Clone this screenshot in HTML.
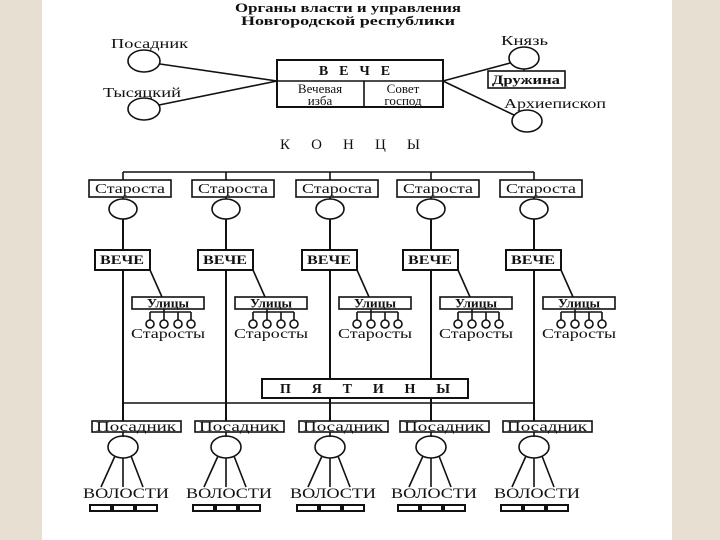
<!DOCTYPE html>
<html><head><meta charset="utf-8"><style>
html,body{margin:0;padding:0;background:#e6dfd2;}
svg{display:block}
text{font-family:"Liberation Serif",serif;fill:#111}
</style></head><body>
<svg width="720" height="540" viewBox="0 0 720 540" xmlns="http://www.w3.org/2000/svg">
<rect x="0" y="0" width="720" height="540" fill="#e6dfd2"/>
<rect x="42" y="0" width="630" height="540" fill="#fff"/>
<g stroke="#111" stroke-width="1.6" fill="none">
<text x="348" y="12" font-size="13" font-weight="bold" text-anchor="middle" stroke="none" textLength="226" lengthAdjust="spacingAndGlyphs">Органы власти и управления</text>
<text x="348" y="25" font-size="13" font-weight="bold" text-anchor="middle" stroke="none" textLength="214" lengthAdjust="spacingAndGlyphs">Новгородской республики</text>
<text x="111" y="48" font-size="14" stroke="none" textLength="77" lengthAdjust="spacingAndGlyphs">Посадник</text>
<ellipse cx="144" cy="61" rx="16" ry="11"/>
<text x="103" y="97" font-size="14" stroke="none" textLength="78" lengthAdjust="spacingAndGlyphs">Тысяцкий</text>
<ellipse cx="144" cy="109" rx="16" ry="11"/>
<line x1="160" y1="64" x2="277" y2="81"/>
<line x1="159" y1="105" x2="277" y2="81"/>
<rect x="277" y="60" width="166" height="47" stroke-width="2"/>
<line x1="277" y1="81" x2="443" y2="81"/>
<line x1="364" y1="81" x2="364" y2="107"/>
<text x="360" y="75" font-size="14" font-weight="bold" text-anchor="middle" stroke="none" letter-spacing="11">ВЕЧЕ</text>
<text x="320" y="93" font-size="13" text-anchor="middle" stroke="none">Вечевая</text>
<text x="320" y="105" font-size="13" text-anchor="middle" stroke="none">изба</text>
<text x="403" y="93" font-size="13" text-anchor="middle" stroke="none">Совет</text>
<text x="403" y="105" font-size="13" text-anchor="middle" stroke="none">господ</text>
<text x="501" y="45" font-size="14" stroke="none" textLength="47" lengthAdjust="spacingAndGlyphs">Князь</text>
<ellipse cx="524" cy="58" rx="15" ry="11"/>
<line x1="524" y1="69" x2="524" y2="71"/>
<rect x="488" y="71" width="77" height="17"/>
<text x="526" y="84" font-size="13" font-weight="bold" text-anchor="middle" stroke="none" textLength="68" lengthAdjust="spacingAndGlyphs">Дружина</text>
<text x="504" y="108" font-size="14" stroke="none" textLength="102" lengthAdjust="spacingAndGlyphs">Архиепископ</text>
<ellipse cx="527" cy="121" rx="15" ry="11"/>
<line x1="443" y1="81" x2="510" y2="63"/>
<line x1="443" y1="81" x2="514" y2="115"/>
<text x="280" y="149" font-size="15" stroke="none" textLength="140" lengthAdjust="spacing">К О Н Ц Ы</text>
<line x1="123" y1="172" x2="534" y2="172"/>
<line x1="123" y1="403" x2="534" y2="403"/>

<g transform="translate(123,0)">
<line x1="0" y1="172" x2="0" y2="180"/>
<rect x="-34" y="180" width="82" height="17" fill="#fff"/>
<text x="7" y="193" font-size="14" text-anchor="middle" stroke="none" textLength="70" lengthAdjust="spacingAndGlyphs">Староста</text>
<line x1="0" y1="197" x2="0" y2="199"/>
<ellipse cx="0" cy="209" rx="14" ry="10"/>
<line x1="0" y1="219" x2="0" y2="421" stroke-width="2"/>
<rect x="-28" y="250" width="55" height="20" fill="#fff" stroke-width="2"/>
<text x="-1" y="264" font-size="13" font-weight="bold" text-anchor="middle" stroke="none" textLength="44" lengthAdjust="spacingAndGlyphs">ВЕЧЕ</text>
<line x1="27" y1="270" x2="39" y2="297"/>
<rect x="9" y="297" width="72" height="12"/>
<text x="45" y="307.5" font-size="13" font-weight="bold" text-anchor="middle" stroke="none" textLength="42" lengthAdjust="spacingAndGlyphs">Улицы</text>
<line x1="27" y1="312" x2="68" y2="312"/><line x1="41" y1="309" x2="41" y2="312"/>
<line x1="27" y1="312" x2="27" y2="320"/><circle cx="27" cy="324" r="4"/>
<line x1="41" y1="312" x2="41" y2="320"/><circle cx="41" cy="324" r="4"/>
<line x1="55" y1="312" x2="55" y2="320"/><circle cx="55" cy="324" r="4"/>
<line x1="68" y1="312" x2="68" y2="320"/><circle cx="68" cy="324" r="4"/>
<text x="45" y="338" font-size="14" text-anchor="middle" stroke="none" textLength="74" lengthAdjust="spacingAndGlyphs">Старосты</text>
<rect x="-31" y="421" width="89" height="11" fill="#fff"/>
<text x="13" y="431" font-size="14" text-anchor="middle" stroke="none" textLength="80" lengthAdjust="spacingAndGlyphs">Посадник</text>
<line x1="0" y1="432" x2="0" y2="437"/>
<ellipse cx="0" cy="447" rx="15" ry="11"/>
<line x1="-8" y1="456" x2="-22" y2="487"/><line x1="0" y1="458" x2="0" y2="487"/><line x1="8" y1="456" x2="20" y2="487"/>
<text x="3" y="498" font-size="15" text-anchor="middle" stroke="none" textLength="86" lengthAdjust="spacingAndGlyphs">ВОЛОСТИ</text>
<rect x="-33" y="505" width="21" height="6" stroke-width="2"/><rect x="-10" y="505" width="21" height="6" stroke-width="2"/><rect x="13" y="505" width="21" height="6" stroke-width="2"/>
</g>

<g transform="translate(226,0)">
<line x1="0" y1="172" x2="0" y2="180"/>
<rect x="-34" y="180" width="82" height="17" fill="#fff"/>
<text x="7" y="193" font-size="14" text-anchor="middle" stroke="none" textLength="70" lengthAdjust="spacingAndGlyphs">Староста</text>
<line x1="0" y1="197" x2="0" y2="199"/>
<ellipse cx="0" cy="209" rx="14" ry="10"/>
<line x1="0" y1="219" x2="0" y2="421" stroke-width="2"/>
<rect x="-28" y="250" width="55" height="20" fill="#fff" stroke-width="2"/>
<text x="-1" y="264" font-size="13" font-weight="bold" text-anchor="middle" stroke="none" textLength="44" lengthAdjust="spacingAndGlyphs">ВЕЧЕ</text>
<line x1="27" y1="270" x2="39" y2="297"/>
<rect x="9" y="297" width="72" height="12"/>
<text x="45" y="307.5" font-size="13" font-weight="bold" text-anchor="middle" stroke="none" textLength="42" lengthAdjust="spacingAndGlyphs">Улицы</text>
<line x1="27" y1="312" x2="68" y2="312"/><line x1="41" y1="309" x2="41" y2="312"/>
<line x1="27" y1="312" x2="27" y2="320"/><circle cx="27" cy="324" r="4"/>
<line x1="41" y1="312" x2="41" y2="320"/><circle cx="41" cy="324" r="4"/>
<line x1="55" y1="312" x2="55" y2="320"/><circle cx="55" cy="324" r="4"/>
<line x1="68" y1="312" x2="68" y2="320"/><circle cx="68" cy="324" r="4"/>
<text x="45" y="338" font-size="14" text-anchor="middle" stroke="none" textLength="74" lengthAdjust="spacingAndGlyphs">Старосты</text>
<rect x="-31" y="421" width="89" height="11" fill="#fff"/>
<text x="13" y="431" font-size="14" text-anchor="middle" stroke="none" textLength="80" lengthAdjust="spacingAndGlyphs">Посадник</text>
<line x1="0" y1="432" x2="0" y2="437"/>
<ellipse cx="0" cy="447" rx="15" ry="11"/>
<line x1="-8" y1="456" x2="-22" y2="487"/><line x1="0" y1="458" x2="0" y2="487"/><line x1="8" y1="456" x2="20" y2="487"/>
<text x="3" y="498" font-size="15" text-anchor="middle" stroke="none" textLength="86" lengthAdjust="spacingAndGlyphs">ВОЛОСТИ</text>
<rect x="-33" y="505" width="21" height="6" stroke-width="2"/><rect x="-10" y="505" width="21" height="6" stroke-width="2"/><rect x="13" y="505" width="21" height="6" stroke-width="2"/>
</g>

<g transform="translate(330,0)">
<line x1="0" y1="172" x2="0" y2="180"/>
<rect x="-34" y="180" width="82" height="17" fill="#fff"/>
<text x="7" y="193" font-size="14" text-anchor="middle" stroke="none" textLength="70" lengthAdjust="spacingAndGlyphs">Староста</text>
<line x1="0" y1="197" x2="0" y2="199"/>
<ellipse cx="0" cy="209" rx="14" ry="10"/>
<line x1="0" y1="219" x2="0" y2="421" stroke-width="2"/>
<rect x="-28" y="250" width="55" height="20" fill="#fff" stroke-width="2"/>
<text x="-1" y="264" font-size="13" font-weight="bold" text-anchor="middle" stroke="none" textLength="44" lengthAdjust="spacingAndGlyphs">ВЕЧЕ</text>
<line x1="27" y1="270" x2="39" y2="297"/>
<rect x="9" y="297" width="72" height="12"/>
<text x="45" y="307.5" font-size="13" font-weight="bold" text-anchor="middle" stroke="none" textLength="42" lengthAdjust="spacingAndGlyphs">Улицы</text>
<line x1="27" y1="312" x2="68" y2="312"/><line x1="41" y1="309" x2="41" y2="312"/>
<line x1="27" y1="312" x2="27" y2="320"/><circle cx="27" cy="324" r="4"/>
<line x1="41" y1="312" x2="41" y2="320"/><circle cx="41" cy="324" r="4"/>
<line x1="55" y1="312" x2="55" y2="320"/><circle cx="55" cy="324" r="4"/>
<line x1="68" y1="312" x2="68" y2="320"/><circle cx="68" cy="324" r="4"/>
<text x="45" y="338" font-size="14" text-anchor="middle" stroke="none" textLength="74" lengthAdjust="spacingAndGlyphs">Старосты</text>
<rect x="-31" y="421" width="89" height="11" fill="#fff"/>
<text x="13" y="431" font-size="14" text-anchor="middle" stroke="none" textLength="80" lengthAdjust="spacingAndGlyphs">Посадник</text>
<line x1="0" y1="432" x2="0" y2="437"/>
<ellipse cx="0" cy="447" rx="15" ry="11"/>
<line x1="-8" y1="456" x2="-22" y2="487"/><line x1="0" y1="458" x2="0" y2="487"/><line x1="8" y1="456" x2="20" y2="487"/>
<text x="3" y="498" font-size="15" text-anchor="middle" stroke="none" textLength="86" lengthAdjust="spacingAndGlyphs">ВОЛОСТИ</text>
<rect x="-33" y="505" width="21" height="6" stroke-width="2"/><rect x="-10" y="505" width="21" height="6" stroke-width="2"/><rect x="13" y="505" width="21" height="6" stroke-width="2"/>
</g>

<g transform="translate(431,0)">
<line x1="0" y1="172" x2="0" y2="180"/>
<rect x="-34" y="180" width="82" height="17" fill="#fff"/>
<text x="7" y="193" font-size="14" text-anchor="middle" stroke="none" textLength="70" lengthAdjust="spacingAndGlyphs">Староста</text>
<line x1="0" y1="197" x2="0" y2="199"/>
<ellipse cx="0" cy="209" rx="14" ry="10"/>
<line x1="0" y1="219" x2="0" y2="421" stroke-width="2"/>
<rect x="-28" y="250" width="55" height="20" fill="#fff" stroke-width="2"/>
<text x="-1" y="264" font-size="13" font-weight="bold" text-anchor="middle" stroke="none" textLength="44" lengthAdjust="spacingAndGlyphs">ВЕЧЕ</text>
<line x1="27" y1="270" x2="39" y2="297"/>
<rect x="9" y="297" width="72" height="12"/>
<text x="45" y="307.5" font-size="13" font-weight="bold" text-anchor="middle" stroke="none" textLength="42" lengthAdjust="spacingAndGlyphs">Улицы</text>
<line x1="27" y1="312" x2="68" y2="312"/><line x1="41" y1="309" x2="41" y2="312"/>
<line x1="27" y1="312" x2="27" y2="320"/><circle cx="27" cy="324" r="4"/>
<line x1="41" y1="312" x2="41" y2="320"/><circle cx="41" cy="324" r="4"/>
<line x1="55" y1="312" x2="55" y2="320"/><circle cx="55" cy="324" r="4"/>
<line x1="68" y1="312" x2="68" y2="320"/><circle cx="68" cy="324" r="4"/>
<text x="45" y="338" font-size="14" text-anchor="middle" stroke="none" textLength="74" lengthAdjust="spacingAndGlyphs">Старосты</text>
<rect x="-31" y="421" width="89" height="11" fill="#fff"/>
<text x="13" y="431" font-size="14" text-anchor="middle" stroke="none" textLength="80" lengthAdjust="spacingAndGlyphs">Посадник</text>
<line x1="0" y1="432" x2="0" y2="437"/>
<ellipse cx="0" cy="447" rx="15" ry="11"/>
<line x1="-8" y1="456" x2="-22" y2="487"/><line x1="0" y1="458" x2="0" y2="487"/><line x1="8" y1="456" x2="20" y2="487"/>
<text x="3" y="498" font-size="15" text-anchor="middle" stroke="none" textLength="86" lengthAdjust="spacingAndGlyphs">ВОЛОСТИ</text>
<rect x="-33" y="505" width="21" height="6" stroke-width="2"/><rect x="-10" y="505" width="21" height="6" stroke-width="2"/><rect x="13" y="505" width="21" height="6" stroke-width="2"/>
</g>

<g transform="translate(534,0)">
<line x1="0" y1="172" x2="0" y2="180"/>
<rect x="-34" y="180" width="82" height="17" fill="#fff"/>
<text x="7" y="193" font-size="14" text-anchor="middle" stroke="none" textLength="70" lengthAdjust="spacingAndGlyphs">Староста</text>
<line x1="0" y1="197" x2="0" y2="199"/>
<ellipse cx="0" cy="209" rx="14" ry="10"/>
<line x1="0" y1="219" x2="0" y2="421" stroke-width="2"/>
<rect x="-28" y="250" width="55" height="20" fill="#fff" stroke-width="2"/>
<text x="-1" y="264" font-size="13" font-weight="bold" text-anchor="middle" stroke="none" textLength="44" lengthAdjust="spacingAndGlyphs">ВЕЧЕ</text>
<line x1="27" y1="270" x2="39" y2="297"/>
<rect x="9" y="297" width="72" height="12"/>
<text x="45" y="307.5" font-size="13" font-weight="bold" text-anchor="middle" stroke="none" textLength="42" lengthAdjust="spacingAndGlyphs">Улицы</text>
<line x1="27" y1="312" x2="68" y2="312"/><line x1="41" y1="309" x2="41" y2="312"/>
<line x1="27" y1="312" x2="27" y2="320"/><circle cx="27" cy="324" r="4"/>
<line x1="41" y1="312" x2="41" y2="320"/><circle cx="41" cy="324" r="4"/>
<line x1="55" y1="312" x2="55" y2="320"/><circle cx="55" cy="324" r="4"/>
<line x1="68" y1="312" x2="68" y2="320"/><circle cx="68" cy="324" r="4"/>
<text x="45" y="338" font-size="14" text-anchor="middle" stroke="none" textLength="74" lengthAdjust="spacingAndGlyphs">Старосты</text>
<rect x="-31" y="421" width="89" height="11" fill="#fff"/>
<text x="13" y="431" font-size="14" text-anchor="middle" stroke="none" textLength="80" lengthAdjust="spacingAndGlyphs">Посадник</text>
<line x1="0" y1="432" x2="0" y2="437"/>
<ellipse cx="0" cy="447" rx="15" ry="11"/>
<line x1="-8" y1="456" x2="-22" y2="487"/><line x1="0" y1="458" x2="0" y2="487"/><line x1="8" y1="456" x2="20" y2="487"/>
<text x="3" y="498" font-size="15" text-anchor="middle" stroke="none" textLength="86" lengthAdjust="spacingAndGlyphs">ВОЛОСТИ</text>
<rect x="-33" y="505" width="21" height="6" stroke-width="2"/><rect x="-10" y="505" width="21" height="6" stroke-width="2"/><rect x="13" y="505" width="21" height="6" stroke-width="2"/>
</g>

<rect x="262" y="379" width="206" height="19" fill="#fff" stroke-width="2"/>
<text x="280" y="393" font-size="14" font-weight="bold" stroke="none" textLength="170" lengthAdjust="spacing">П Я Т И Н Ы</text>
</g>
</svg>
</body></html>
